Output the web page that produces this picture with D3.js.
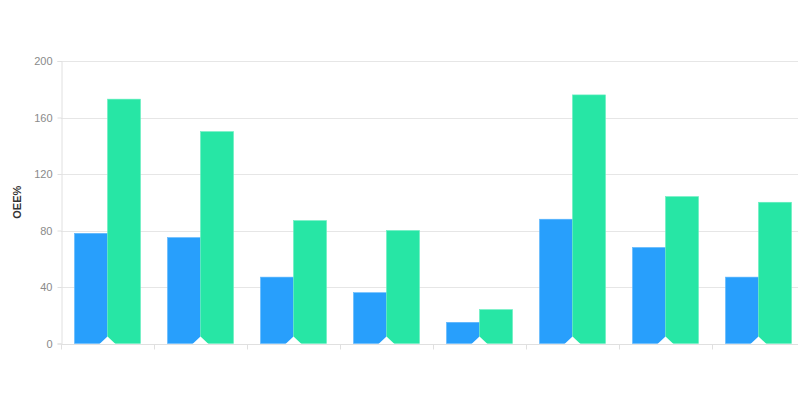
<!DOCTYPE html>
<html><head><meta charset="utf-8">
<script src="https://cdn.jsdelivr.net/npm/d3@7"></script>
<style>html,body{margin:0;padding:0;background:#fff;overflow:hidden}</style>
</head><body>
<svg id="c" width="798" height="408"></svg>
<script>
const categories = ["1","2","3","4","5","6","7","8"];
const seriesA = [78, 75, 47, 36, 15, 88, 68, 47];
const seriesB = [173, 150, 87, 80, 24, 176, 104, 100];
const yTicks = [0, 40, 80, 120, 160, 200];
const yTitle = "OEE%";

(function(){
const svg = d3.select("#c");
const pLeft = 61, pRight = 805, pTop = 61, pBottom = 343.5;
const x = d3.scaleBand().domain(categories).range([pLeft, pRight]);
const y = d3.scaleLinear().domain([0, 200]).range([pBottom, pTop]);
const bw = x.bandwidth()*0.355;

// grid
svg.append("g").selectAll("line").data(yTicks.filter(d=>d>0)).join("line")
  .attr("x1", pLeft).attr("x2", 798).attr("y1", d=>Math.round(y(d))+0.5).attr("y2", d=>Math.round(y(d))+0.5)
  .attr("stroke", "#e6e6e6").attr("stroke-width", 1);

// y axis
const yAxis = svg.append("g").attr("transform", `translate(${pLeft+0.5},0)`)
  .call(d3.axisLeft(y).tickValues(yTicks).tickSize(4).tickPadding(5));
yAxis.select(".domain").attr("stroke", "#e0e0e0");
yAxis.selectAll(".tick line").attr("stroke", "#e0e0e0");
yAxis.selectAll(".tick text").attr("fill", "#8a8a8a").attr("font-size", 11).attr("font-family", "Arial, Liberation Sans, sans-serif");

// bars
const data = categories.map((c,i)=>({c, a: seriesA[i], b: seriesB[i]}));
const g = svg.append("g");
g.selectAll("rect.a").data(data).join("rect").attr("class","a")
  .attr("x", d=>x(d.c)+x.bandwidth()/2-bw).attr("width", bw)
  .attr("y", d=>y(d.a)).attr("height", d=>pBottom-y(d.a))
  .attr("fill", "#289ffc").attr("stroke", "#5fb8fd").attr("stroke-width", 0.6);
g.selectAll("rect.b").data(data).join("rect").attr("class","b")
  .attr("x", d=>x(d.c)+x.bandwidth()/2).attr("width", bw)
  .attr("y", d=>y(d.b)).attr("height", d=>pBottom-y(d.b))
  .attr("fill", "#27e6a5").attr("stroke", "#6aeec0").attr("stroke-width", 0.6);

// white triangle notches
g.selectAll("path.tri").data(data).join("path").attr("class","tri")
  .attr("d", d=>{const cx = x(d.c)+x.bandwidth()/2; return `M${cx-8},${pBottom+0.5}L${cx},${pBottom-7}L${cx+8},${pBottom+0.5}Z`;})
  .attr("fill", "#fff");

// x axis
const xAxis = svg.append("g").attr("transform", `translate(0,${pBottom+0.5})`)
  .call(d3.axisBottom(x).tickSize(0).tickFormat(""));
xAxis.select(".domain").attr("stroke", "#e0e0e0");
svg.append("g").selectAll("line").data(categories.concat(["end"])).join("line")
  .attr("x1", (d,i)=>Math.round(pLeft + i*x.bandwidth())+0.5).attr("x2", (d,i)=>Math.round(pLeft + i*x.bandwidth())+0.5)
  .attr("y1", pBottom+0.5).attr("y2", pBottom+6).attr("stroke", "#e0e0e0");

// y title
svg.append("text").attr("transform", `translate(21,${(pTop+pBottom)/2}) rotate(-90)`)
  .attr("text-anchor", "middle").attr("font-size", 11).attr("font-weight", "bold")
  .attr("font-family", "Arial, Liberation Sans, sans-serif").attr("fill", "#333").text(yTitle);
})();
</script>
</body></html>
